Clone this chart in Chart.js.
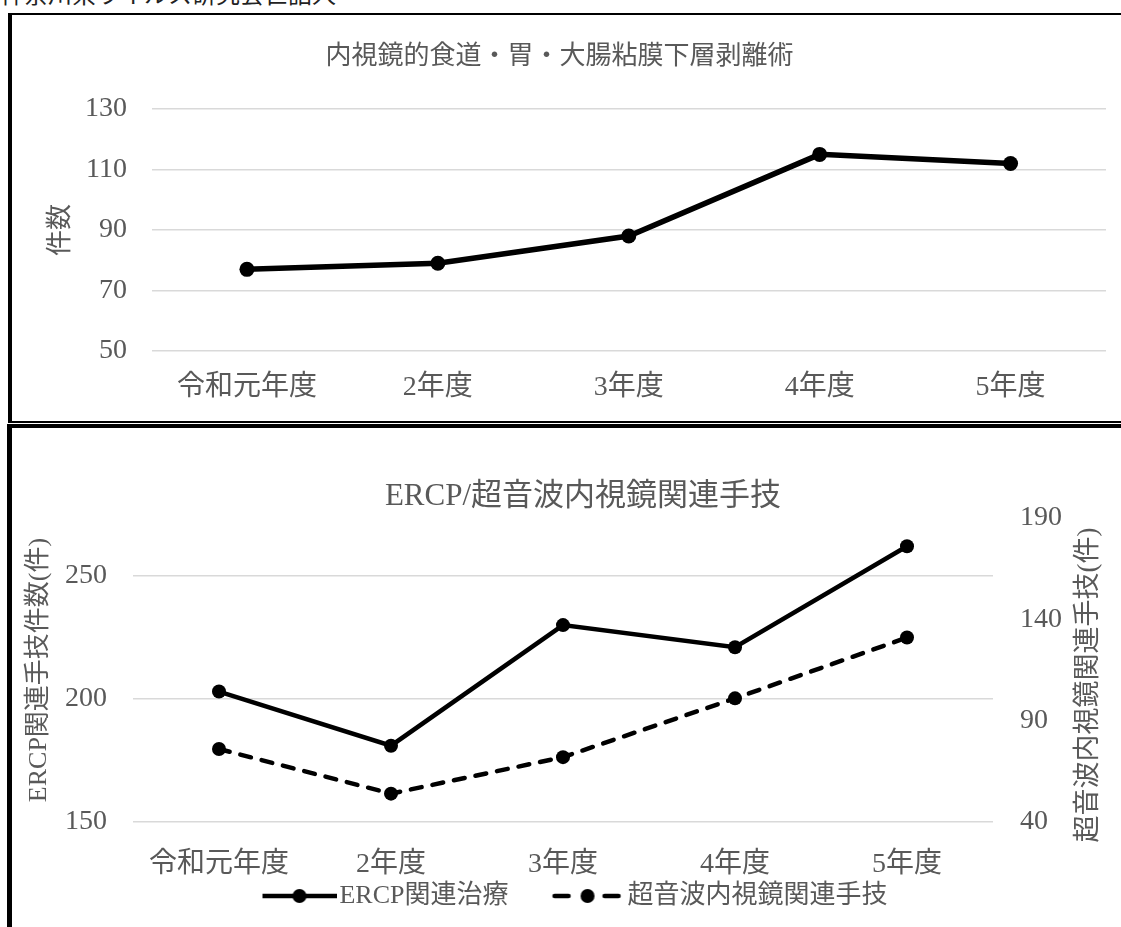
<!DOCTYPE html>
<html>
<head>
<meta charset="utf-8">
<script src="https://cdn.jsdelivr.net/npm/chart.js@4"></script>
<style>
  body { margin: 0; width: 1121px; height: 927px; overflow: hidden; background: #fff; position: relative;
         font-family: 'Liberation Serif', 'Noto Sans CJK JP', serif; }
  #caption { position: absolute; left: 0; top: -17px; font-size: 24px; line-height: 1; color: #222; white-space: nowrap; }
  #box1 { position: absolute; left: 8px; top: 13px; width: 1200px; height: 406px;
          border-top: 2px solid #000; border-left: 4px solid #000; border-bottom: 2px solid #000; }
  #box2 { position: absolute; left: 7px; top: 424px; width: 1200px; height: 600px;
          border-top: 4px solid #000; border-left: 5px solid #000; }
  canvas { position: absolute; }
  #c1 { left: 13px; top: 15px; }
  #c2 { left: 12px; top: 428px; }
</style>
</head>
<body>
<div id="caption">神奈川県ウイルス研究会世話人</div>
<div id="box1"></div>
<div id="box2"></div>
<canvas id="c1" width="1108" height="405"></canvas>
<canvas id="c2" width="1109" height="491"></canvas>
<script>
// データ
const years = ['令和元年度', '2年度', '3年度', '4年度', '5年度'];
const esdCounts = [77, 79, 88, 115, 112];
const ercpCounts = [203, 181, 230, 221, 262];
const eusCounts = [76, 54, 72, 101, 131];

const esdRange = [50, 130];
const ercpRange = [150, 273.5];
const eusRange = [40, 190];

const FONT = "'Liberation Serif', 'Noto Sans CJK JP', serif";
const GRAY = '#595959';
Chart.defaults.font.family = FONT;
Chart.defaults.color = GRAY;

// 凡例用のマーク（線＋丸）。左側は余白にして項目間を空ける
function legendMark(dashed) {
  const c = document.createElement('canvas');
  c.width = 125; c.height = 18;
  const g = c.getContext('2d');
  const x0 = 125 - 75;
  g.strokeStyle = '#000'; g.fillStyle = '#000'; g.lineWidth = 4.5;
  g.beginPath();
  if (dashed) {
    g.lineCap = 'round';
    g.moveTo(x0 + 4, 9); g.lineTo(x0 + 18, 9);
    g.moveTo(x0 + 54, 9); g.lineTo(x0 + 68, 9);
  } else {
    g.moveTo(x0, 9); g.lineTo(x0 + 75, 9);
  }
  g.stroke();
  g.beginPath(); g.arc(x0 + 37, 9, 7, 0, Math.PI * 2); g.fill();
  return c;
}
const marks = [legendMark(false), legendMark(true)];

// 下のグラフのタイトルと右軸タイトル
const extraText = {
  id: 'extraText',
  afterDraw(chart) {
    const a = chart.chartArea;
    const s = chart.scales.y2;
    const ctx = chart.ctx;
    ctx.save();
    ctx.fillStyle = GRAY;
    ctx.textAlign = 'center';
    ctx.textBaseline = 'middle';
    ctx.font = '31px ' + FONT;
    ctx.fillText('ERCP/超音波内視鏡関連手技', (a.left + a.right) / 2 + 20, a.top - 21);
    ctx.translate(s.right - 10, (s.top + s.bottom) / 2 + 15);
    ctx.rotate(-Math.PI / 2);
    ctx.font = '27px ' + FONT;
    ctx.fillText('超音波内視鏡関連手技(件)', 0, 0);
    ctx.restore();
  }
};

new Chart(document.getElementById('c1'), {
  type: 'line',
  data: {
    labels: years,
    datasets: [{
      label: '件数',
      data: esdCounts,
      borderColor: '#000',
      backgroundColor: '#000',
      borderWidth: 5.5,
      pointRadius: 7.5,
      pointBorderWidth: 0,
      pointBackgroundColor: '#000'
    }]
  },
  options: {
    responsive: false,
    animation: false,
    layout: { padding: { left: 0, right: 15, top: 0, bottom: 0 } },
    plugins: {
      legend: { display: false },
      tooltip: { enabled: false },
      title: {
        display: true,
        text: '内視鏡的食道・胃・大腸粘膜下層剥離術',
        color: GRAY,
        font: { size: 26, weight: 'normal' },
        padding: { top: 26.4, bottom: 36.4 }
      }
    },
    scales: {
      x: {
        offset: true,
        grid: { display: false, drawTicks: false },
        border: { display: false },
        ticks: { color: GRAY, font: { size: 28 }, padding: 20.2 },
        afterFit(s) { s.height = 69; }
      },
      y: {
        min: esdRange[0],
        max: esdRange[1],
        ticks: { stepSize: 20, color: GRAY, font: { size: 28 }, padding: 24.5 },
        grid: { color: '#d9d9d9', lineWidth: 1.5, drawTicks: false },
        border: { display: false },
        title: { display: true, text: '件数', color: GRAY, font: { size: 26 }, padding: { top: 33 } },
        afterFit(s) { s.width = 138.5; }
      }
    }
  }
});

new Chart(document.getElementById('c2'), {
  type: 'line',
  data: {
    labels: years,
    datasets: [{
      label: 'ERCP関連治療',
      data: ercpCounts,
      yAxisID: 'y',
      borderColor: '#000',
      backgroundColor: '#000',
      borderWidth: 4.5,
      pointRadius: 7,
      pointBorderWidth: 0,
      pointBackgroundColor: '#000'
    }, {
      label: '超音波内視鏡関連手技',
      data: eusCounts,
      yAxisID: 'y2',
      borderColor: '#000',
      backgroundColor: '#000',
      borderWidth: 4.5,
      borderDash: [11, 11],
      borderCapStyle: 'round',
      pointRadius: 7,
      pointBorderWidth: 0,
      pointBackgroundColor: '#000'
    }]
  },
  options: {
    responsive: false,
    animation: false,
    layout: { padding: { left: 0, right: 22, top: 90, bottom: 0 } },
    plugins: {
      tooltip: { enabled: false },
      title: { display: false },
      legend: {
        position: 'bottom',
        labels: {
          color: GRAY,
          font: { size: 26 },
          padding: 3,
          usePointStyle: true,
          pointStyleWidth: 103,
          generateLabels(chart) {
            const items = Chart.defaults.plugins.legend.labels.generateLabels(chart);
            items.forEach((it, i) => { it.pointStyle = marks[i]; });
            return items;
          }
        }
      }
    },
    scales: {
      x: {
        offset: true,
        grid: { display: false, drawTicks: false },
        border: { display: false },
        ticks: { color: GRAY, font: { size: 28 }, padding: 26.2 },
        afterFit(s) { s.height = 58; }
      },
      y: {
        position: 'left',
        min: ercpRange[0],
        max: ercpRange[1],
        ticks: { stepSize: 50, includeBounds: false, color: GRAY, font: { size: 28 }, padding: 26 },
        grid: { color: '#d9d9d9', lineWidth: 1.5, drawTicks: false },
        border: { display: false },
        title: { display: true, text: 'ERCP関連手技件数(件)', color: GRAY, font: { size: 26 }, padding: { top: 11.4 } },
        afterFit(s) { s.width = 121; }
      },
      y2: {
        position: 'right',
        min: eusRange[0],
        max: eusRange[1],
        ticks: { stepSize: 50, color: GRAY, font: { size: 28 }, padding: 27 },
        grid: { display: false, drawTicks: false },
        border: { display: false },
        afterFit(s) { s.width = 106; }
      }
    }
  },
  plugins: [extraText]
});
</script>
</body>
</html>
